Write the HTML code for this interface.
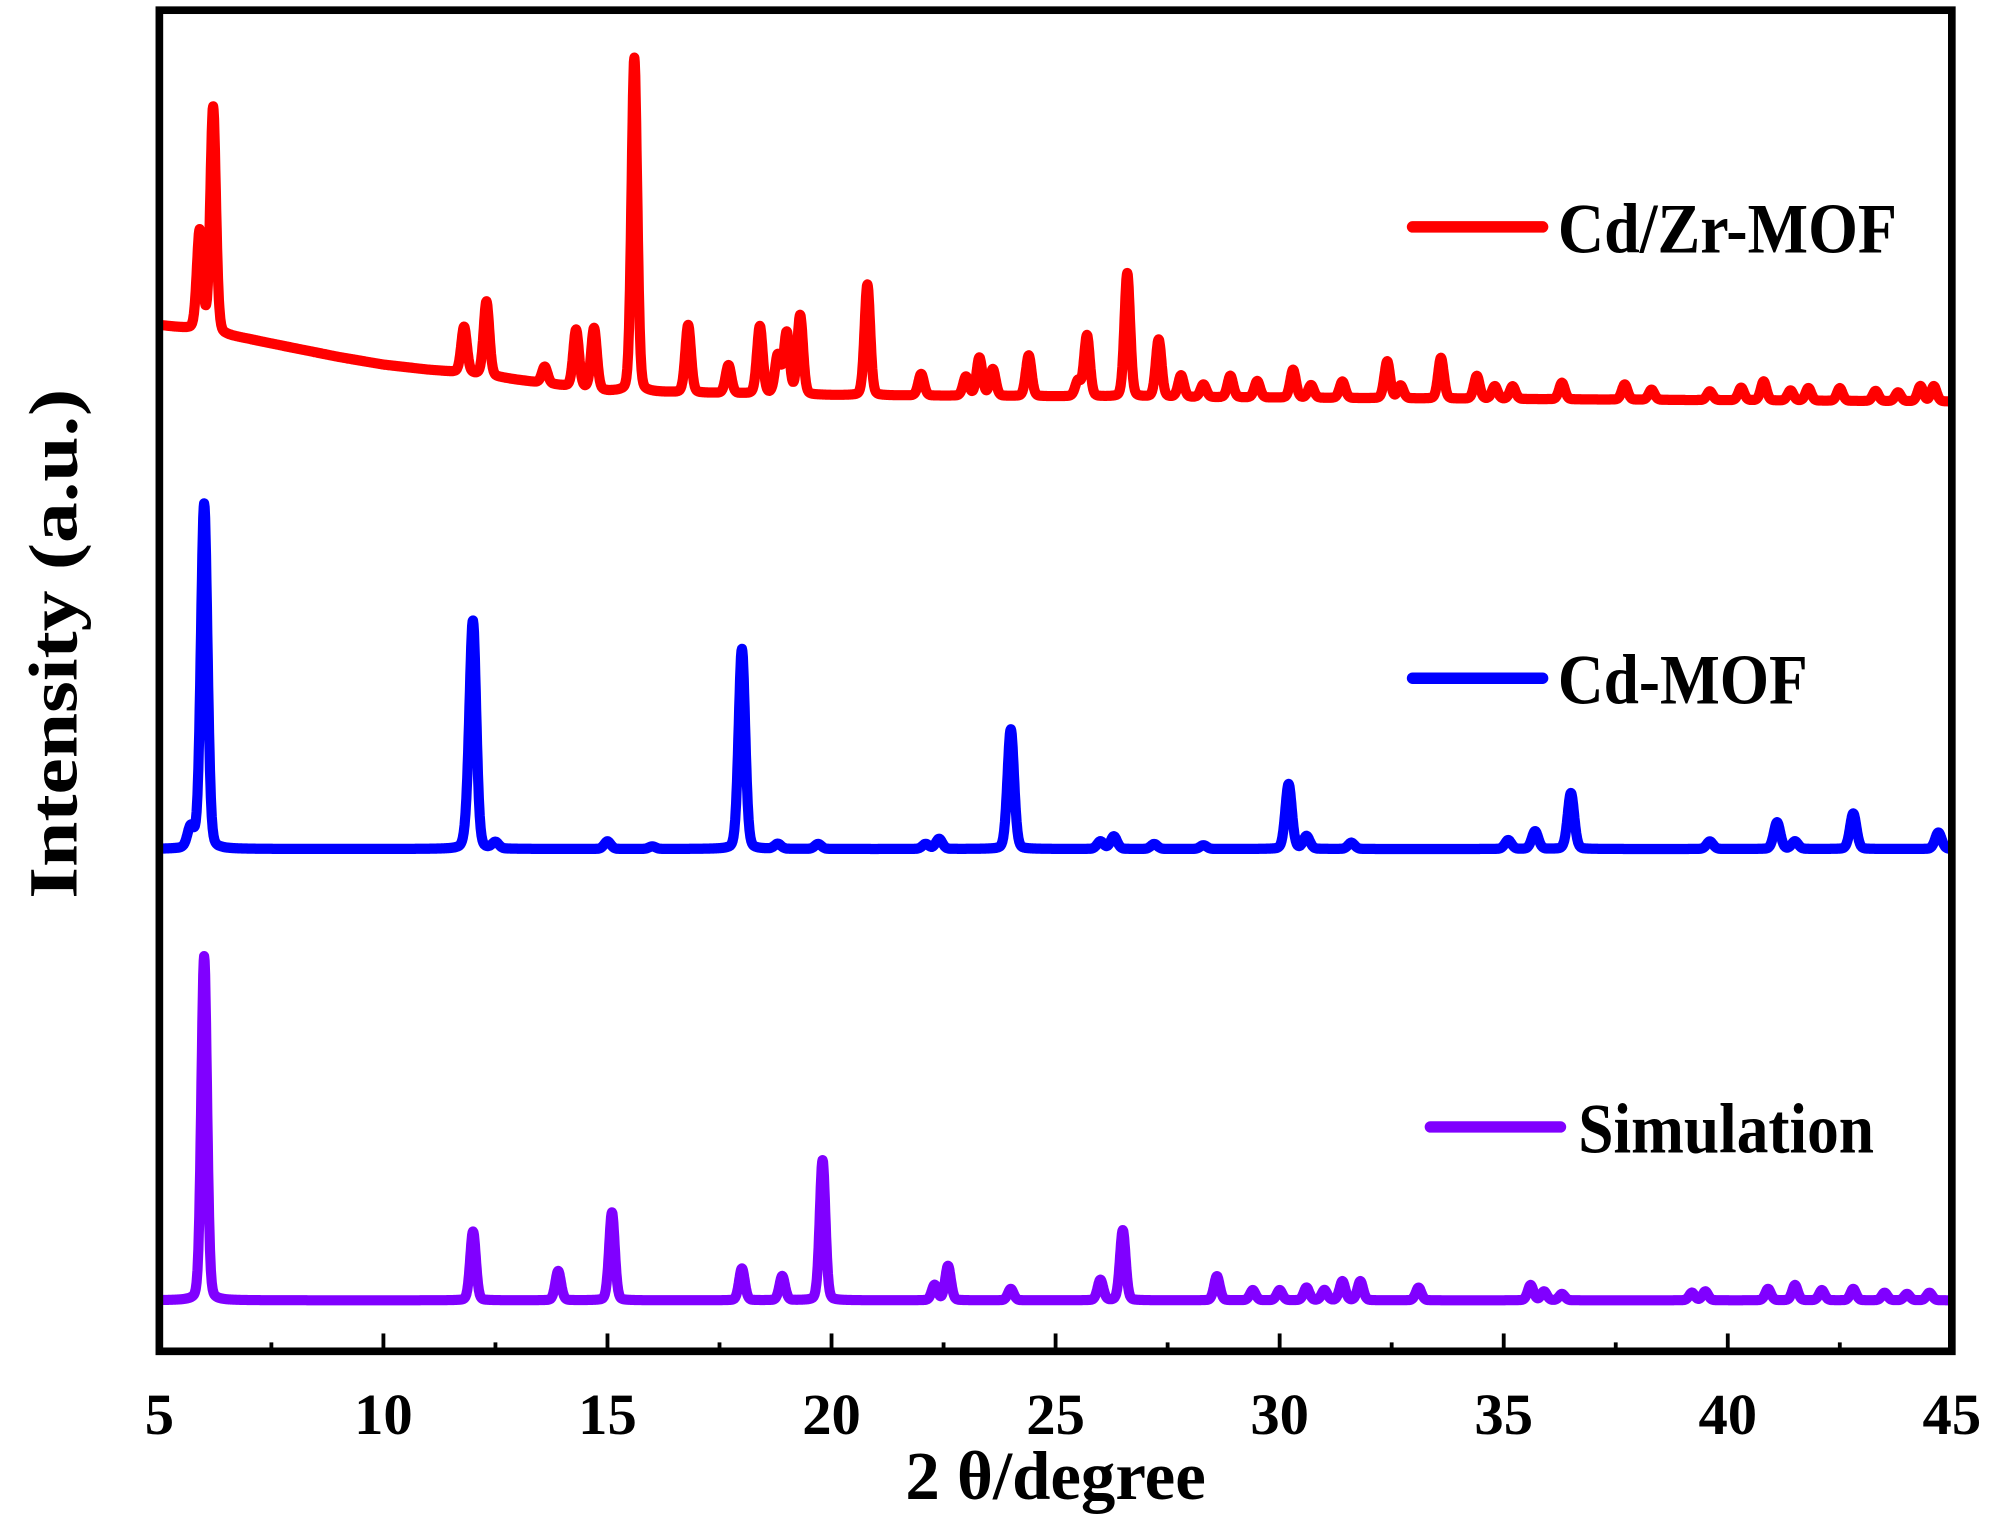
<!DOCTYPE html>
<html><head><meta charset="utf-8"><style>
html,body{margin:0;padding:0;background:#fff;}
svg{display:block;}
text{font-family:"Liberation Serif",serif;font-weight:bold;fill:#000;}
</style></head><body>
<svg id="chart" width="1999" height="1528" viewBox="0 0 1568 1198.6" preserveAspectRatio="none" xmlns="http://www.w3.org/2000/svg">
<g id="curves"></g>
<g id="axes"></g>
<text transform="translate(60,505) rotate(-90)" text-anchor="middle" font-size="54" textLength="400" lengthAdjust="spacingAndGlyphs">Intensity (a.u.)</text>
<text x="828" y="1176" text-anchor="middle" font-size="54">2 θ/degree</text>
<g>
<line x1="1108" y1="178" x2="1210" y2="178" stroke="#ff0000" stroke-width="9" stroke-linecap="round"/>
<text x="1222" y="198" font-size="56" textLength="266" lengthAdjust="spacingAndGlyphs">Cd/Zr-MOF</text>
<line x1="1108" y1="532" x2="1210" y2="532" stroke="#0000ff" stroke-width="9" stroke-linecap="round"/>
<text x="1222" y="552" font-size="56" textLength="196" lengthAdjust="spacingAndGlyphs">Cd-MOF</text>
<line x1="1122" y1="884" x2="1224" y2="884" stroke="#8000ff" stroke-width="9" stroke-linecap="round"/>
<text x="1238" y="904" font-size="56" textLength="232" lengthAdjust="spacingAndGlyphs">Simulation</text>
</g>
</svg>
<script>
const xTicks = [5,10,15,20,25,30,35,40,45];
const xMinor = [7.5,12.5,17.5,22.5,27.5,32.5,37.5,42.5];

const redPos = [5.9,6.2,11.8,12.3,13.6,14.3,14.7,15.6,16.8,17.7,18.4,18.8,19.0,19.3,20.8,22.0,23.0,23.3,23.6,24.4,25.5,25.7,26.6,27.3,27.8,28.3,28.9,29.5,30.3,30.7,31.4,32.4,32.7,33.6,34.4,34.8,35.2,36.3,37.7,38.3,39.6,40.3,40.8,41.4,41.8,42.5,43.3,43.8,44.3,44.6];
const redHt = [78,177,36,58,13,45,48,262,53,22,53,30,48,62,87,17,15,30,21,32,12,48,97,45,17,10,17,13,22,10,13,29,10,32,18,10,10,13,12,8,7,10,15,8,10,10,8,7,12,12];
const redBgX = [5,5.7,6.5,7,8,9,10,11,12,13,15,20,30,45];
const redBgY = [60,57,52,49,42,35,29,25,22,17,8,5,3,0];

const bluePos = [5.7,6.0,11.9,12.0,12.5,15.0,16.0,18.0,18.8,19.7,22.1,22.4,24.0,26.0,26.3,27.2,28.3,30.2,30.6,31.6,35.1,35.7,36.5,39.6,41.1,41.5,42.8,44.7];
const blueHt = [16,271,18,172,5,6,2,157,4,4,4,8,94,6,10,4,3,51,10,5,7,14,44,6,21,6,28,13];

const simPos = [6.0,12.0,13.9,15.1,18.0,18.9,19.8,22.3,22.6,24.0,26.0,26.5,28.6,29.4,30.0,30.6,31.0,31.4,31.8,33.1,35.6,35.9,36.3,39.2,39.5,40.9,41.5,42.1,42.8,43.5,44.0,44.5];
const simHt = [270,54,23,69,25,19,110,12,27,9,16,55,19,8,8,10,8,15,15,10,12,7,5,6,7,9,12,8,9,6,5,6];

const X0=125, X1=1531, T=8, B=1060;
function xs(v){return X0+(v-5)*(X1-X0)/40;}
function interp(xa,ya,v){for(let i=0;i<xa.length-1;i++){if(v<=xa[i+1]){const t=(v-xa[i])/(xa[i+1]-xa[i]);return ya[i]+t*(ya[i+1]-ya[i]);}}return ya[ya.length-1];}
function profile(pos,ht,sig,v){let s=0;for(let i=0;i<pos.length;i++){const d=(v-pos[i])/sig;s+=ht[i]*(0.8*Math.exp(-0.5*d*d)+0.2/(1+d*d));}return s;}
function path(pos,ht,sig,base,bgX,bgY){let d='';for(let v=5;v<=45.0001;v+=0.01){let y=profile(pos,ht,sig,v);if(bgX)y+=interp(bgX,bgY,v);d+=(d?'L':'M')+xs(v).toFixed(1)+' '+(base-y).toFixed(1);}return d;}
const NS='http://www.w3.org/2000/svg';
const cg=document.getElementById('curves');
function addCurve(d,color,name){const p=document.createElementNS(NS,'path');p.setAttribute('d',d);p.setAttribute('fill','none');p.setAttribute('stroke',color);p.setAttribute('stroke-width','8');p.setAttribute('stroke-linejoin','round');


cg.appendChild(p);}
addCurve(path(redPos,redHt,0.065,315,redBgX,redBgY),'#ff0000','cdzr-mof-curve');
addCurve(path(bluePos,blueHt,0.075,666),'#0000ff','cd-mof-curve');
addCurve(path(simPos,simHt,0.065,1020),'#8000ff','simulation-curve');
const ag=document.getElementById('axes');
function el(tag,attrs){const e=document.createElementNS(NS,tag);for(const k in attrs)e.setAttribute(k,attrs[k]);ag.appendChild(e);return e;}
const fr=el('rect',{x:X0,y:T,width:X1-X0,height:B-T,fill:'none',stroke:'#000','stroke-width':6});


xTicks.forEach(v=>{const t=el('line',{x1:xs(v),x2:xs(v),y1:B,y2:B-14,stroke:'#000','stroke-width':3});


const l=el('text',{x:xs(v),y:1125,'text-anchor':'middle','font-size':46});l.textContent=v;

});
xMinor.forEach(v=>{const t=el('line',{x1:xs(v),x2:xs(v),y1:B,y2:B-7,stroke:'#000','stroke-width':3});

});
</script>
</body></html>
